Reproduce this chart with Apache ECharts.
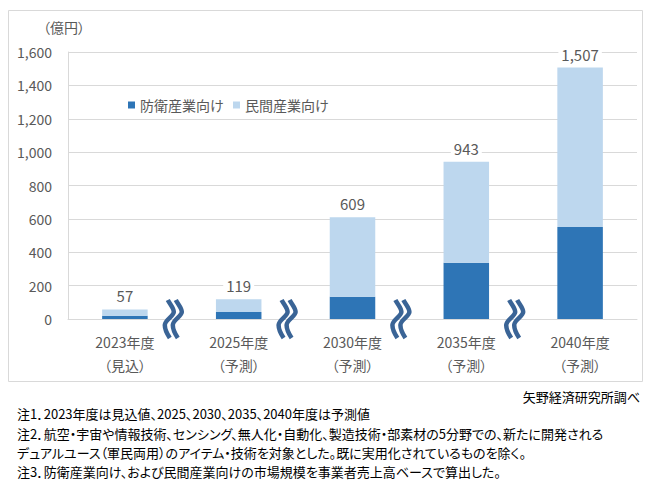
<!DOCTYPE html>
<html>
<head>
<meta charset="utf-8">
<script src="https://cdn.jsdelivr.net/npm/echarts@6/dist/echarts.min.js"></script>
<style>
html,body{margin:0;padding:0;background:#fff;}
#chart{width:651px;height:494px;}
#chart text, #chart tspan{font-feature-settings:"palt" 1 !important;}
</style>
</head>
<body>
<div id="chart"></div>
<script>
const categories = ['2023年度\n（見込）', '2025年度\n（予測）', '2030年度\n（予測）', '2035年度\n（予測）', '2040年度\n（予測）'];
const seriesNames = ['防衛産業向け', '民間産業向け'];
const defenseValues = [20, 42, 133, 337, 551];
const civilValues = [37, 77, 476, 606, 956];
const totalLabels = [57, 119, 609, 943, 1507];
const yMax = 1600;
const yInterval = 200;
const breakAfter = [0, 1, 2, 3];
const unitLabel = '（億円）';
const sourceText = '矢野経済研究所調べ';
const notes = [
  '注1．2023年度は見込値、2025、2030、2035、2040年度は予測値',
  '注2．航空・宇宙や情報技術、センシング、無人化・自動化、製造技術・部素材の5分野での、新たに開発される',
  'デュアルユース（軍民両用）のアイテム・技術を対象とした。既に実用化されているものを除く。',
  '注3．防衛産業向け、および民間産業向けの市場規模を事業者売上高ベースで算出した。'
];

const FONT = '"Noto Sans CJK JP", "Noto Sans", sans-serif';
const TXT = '#595959';
const fmt = v => Number(v).toLocaleString('en-US');

const chart = echarts.init(document.getElementById('chart'), null, {renderer: 'svg'});

const noteY = [413, 433, 452, 471];
const graphics = [
  {type: 'rect', z: -1, silent: true,
   shape: {x: 8.5, y: 10.5, width: 634, height: 371},
   style: {fill: 'none', stroke: '#D9D9D9', lineWidth: 1}},
  {type: 'text', x: 64, y: 27,
   style: {text: unitLabel, font: '14px ' + FONT, fill: TXT, textAlign: 'center', textVerticalAlign: 'middle'}},
  {type: 'text', x: 640, y: 396,
   style: {text: sourceText, font: '13px ' + FONT, fill: '#000', textAlign: 'right', textVerticalAlign: 'middle'}}
];
notes.forEach((t, i) => {
  graphics.push({type: 'text', x: 17, y: noteY[i],
    style: {text: t, font: '13px ' + FONT, fill: '#000', textAlign: 'left', textVerticalAlign: 'middle'}});
});

const strokePath = 'M -5 -19 C -3 -15 1 -11 1 -7 C 1 -3 -8 1 -8 6 C -8 11 -5 16 -3 19';

chart.setOption({
  animation: false,
  textStyle: {fontFamily: FONT},
  grid: {left: 68, right: 14, top: 52, bottom: 175, containLabel: false},
  legend: {
    data: seriesNames,
    left: 123, top: 93,
    icon: 'rect', itemWidth: 7, itemHeight: 7, itemGap: 9,
    textStyle: {fontSize: 14, color: TXT, fontFamily: FONT}
  },
  xAxis: {
    type: 'category',
    data: categories,
    axisLine: {lineStyle: {color: '#D9D9D9'}},
    axisTick: {show: false},
    axisLabel: {color: TXT, fontSize: 14, lineHeight: 23, margin: 11, fontFamily: FONT}
  },
  yAxis: {
    type: 'value',
    min: 0, max: yMax, interval: yInterval,
    axisLine: {show: true, lineStyle: {color: '#D9D9D9'}},
    axisTick: {show: false},
    splitLine: {lineStyle: {color: '#D9D9D9'}},
    axisLabel: {color: TXT, fontSize: 14, margin: 16, formatter: v => fmt(v), fontFamily: FONT}
  },
  series: [
    {
      name: seriesNames[0], type: 'bar', stack: 'total', data: defenseValues,
      barWidth: '40%',
      itemStyle: {color: '#2E75B6'}
    },
    {
      name: seriesNames[1], type: 'bar', stack: 'total', data: civilValues,
      barWidth: '40%',
      itemStyle: {color: '#BDD7EE'},
      label: {
        show: true, position: 'top', distance: 5,
        color: TXT, fontSize: 15, fontFamily: FONT,
        backgroundColor: '#fff', padding: [1, 3],
        formatter: p => fmt(totalLabels[p.dataIndex])
      }
    },
    {
      type: 'custom',
      data: breakAfter.map(i => [i, 0]),
      encode: {x: 0, y: 1},
      clip: false,
      z: 5,
      silent: true,
      renderItem: function (params, api) {
        const p = api.coord([api.value(0), 0]);
        const bw = api.size([1, 0])[0];
        const cx = p[0] + bw / 2 - 5;
        const cy = p[1];
        const mk = dx => ({
          type: 'path',
          x: cx + dx, y: cy,
          shape: {pathData: strokePath},
          style: {fill: 'none', stroke: '#3A6496', lineWidth: 4.5, lineCap: 'butt'}
        });
        return {type: 'group', children: [mk(-4), mk(4)]};
      }
    }
  ],
  graphic: graphics
});
</script>
</body>
</html>
